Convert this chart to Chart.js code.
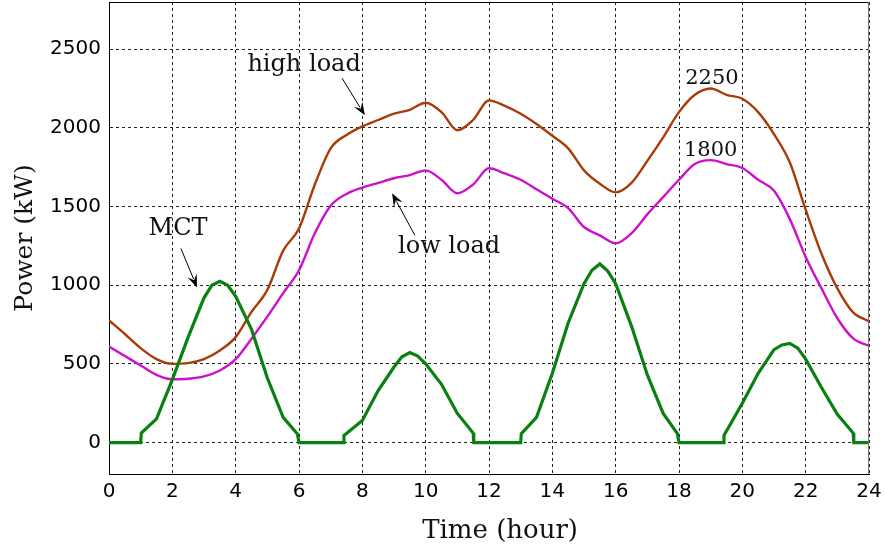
<!DOCTYPE html>
<html>
<head>
<meta charset="utf-8">
<script src="https://cdn.jsdelivr.net/npm/chart.js@4.4.1/dist/chart.umd.min.js"></script>
<style>
    html, body { margin: 0; padding: 0; background: #fff; }
    #wrap { width: 885px; height: 552px; }
</style>
</head>
<body>
<div id="wrap"><canvas id="powerChart"></canvas></div>
<script>
// --- данные (часы / кВт) ---
const loadHours = [0, 0.5, 1, 1.5, 2, 2.5, 3, 3.5, 4, 4.5, 5, 5.5, 6, 6.5, 7, 7.5, 8, 8.5, 9, 9.5, 10, 10.5, 11, 11.5,
    12, 12.5, 13, 13.5, 14, 14.5, 15, 15.5, 16, 16.5, 17, 17.5, 18, 18.5, 19, 19.5, 20, 20.5, 21, 21.5, 22, 22.5, 23, 23.5, 24];
const highLoad = [776, 690, 600, 530, 500, 505, 530, 585, 670, 830, 970, 1220, 1360, 1640, 1870, 1955, 2010, 2050, 2090, 2115, 2160, 2100, 1985, 2050,
    2175, 2140, 2090, 2025, 1950, 1870, 1730, 1645, 1590, 1650, 1790, 1940, 2100, 2210, 2250, 2210, 2185, 2100, 1960, 1780, 1480, 1200, 980, 827, 770];
const lowLoad = [610, 550, 490, 430, 402, 405, 420, 458, 530, 660, 800, 950, 1095, 1330, 1505, 1580, 1620, 1650, 1680, 1700, 1730, 1670, 1584, 1640,
    1743, 1710, 1670, 1610, 1550, 1490, 1370, 1317, 1266, 1330, 1450, 1560, 1670, 1770, 1795, 1770, 1745, 1670, 1600, 1420, 1180, 980, 790, 662, 615];

const mctHours = [0, 1.0, 1.02, 1.5, 2.0, 2.5, 3.0, 3.25, 3.5, 3.75, 4.0, 4.5, 5.0, 5.5, 5.95, 6.0,
    7.4, 7.42, 8.0, 8.5, 9.0, 9.25, 9.5, 9.75, 10.0, 10.5, 11.0, 11.5, 11.52,
    13.0, 13.02, 13.5, 14.0, 14.5, 15.0, 15.25, 15.5, 15.75, 16.0, 16.5, 17.0, 17.5, 17.95, 18.0,
    19.4, 19.42, 20.0, 20.5, 21.0, 21.25, 21.5, 21.75, 22.0, 22.5, 23.0, 23.5, 23.52, 24];
const mctPower = [0, 0, 60, 150, 400, 670, 920, 1000, 1025, 1000, 930, 720, 410, 160, 55, 0,
    0, 45, 140, 330, 480, 545, 572, 550, 500, 370, 185, 60, 0,
    0, 57, 160, 440, 760, 1010, 1095, 1135, 1090, 1010, 740, 430, 185, 57, 0,
    0, 45, 250, 440, 590, 620, 630, 600, 530, 350, 180, 60, 0, 0];

const xTicks = [0, 2, 4, 6, 8, 10, 12, 14, 16, 18, 20, 22, 24];
const yTicks = [0, 500, 1000, 1500, 2000, 2500];

// подписи и стрелки (в координатах данных)
const labels = [
    { text: 'high load', x: 6.16, y: 2398, size: 24 },
    { text: 'low load', x: 10.74, y: 1247, size: 24 },
    { text: 'MCT', x: 2.18, y: 1361, size: 24 },
    { text: '2250', x: 19.04, y: 2316, size: 21 },
    { text: '1800', x: 19.0, y: 1857, size: 21 }
];
const arrows = [
    { from: [7.36, 2316], to: [8.08, 2080] },
    { from: [9.66, 1317], to: [8.94, 1584] },
    { from: [2.27, 1234], to: [2.78, 986] }
];

const SERIF = "'DejaVu Serif', serif";
const SANS = "'DejaVu Sans', sans-serif";

const toPoints = (xs, ys) => xs.map((x, i) => ({ x: x, y: ys[i] }));

const frameAndNotes = {
    id: 'frameAndNotes',
    afterDatasetsDraw(chart) {
        const { ctx, chartArea: a, scales: { x, y } } = chart;
        ctx.save();
        // рамка
        ctx.lineWidth = 1;
        ctx.strokeStyle = '#000';
        ctx.beginPath();
        ctx.moveTo(a.left, a.top + 0.5);
        ctx.lineTo(a.right, a.top + 0.5);
        ctx.stroke();
        ctx.strokeStyle = '#777';
        ctx.beginPath();
        ctx.moveTo(a.right - 0.5, a.top);
        ctx.lineTo(a.right - 0.5, a.bottom);
        ctx.stroke();

        // текст
        ctx.fillStyle = '#111';
        ctx.textAlign = 'center';
        ctx.textBaseline = 'middle';
        labels.forEach(l => {
            ctx.font = l.size + 'px ' + SERIF;
            ctx.fillText(l.text, x.getPixelForValue(l.x), y.getPixelForValue(l.y));
        });

        // подпись оси X (в оригинале чуть правее центра)
        ctx.font = '26px ' + SERIF;
        ctx.fillText('Time (hour)', x.getPixelForValue(12.35), x.bottom - 21);

        // стрелки
        arrows.forEach(ar => {
            const x0 = x.getPixelForValue(ar.from[0]), y0 = y.getPixelForValue(ar.from[1]);
            const x1 = x.getPixelForValue(ar.to[0]), y1 = y.getPixelForValue(ar.to[1]);
            const ang = Math.atan2(y1 - y0, x1 - x0);
            const len = 13, half = 5;
            ctx.strokeStyle = '#000';
            ctx.lineWidth = 1;
            ctx.beginPath();
            ctx.moveTo(x0, y0);
            ctx.lineTo(x1 - Math.cos(ang) * len * 0.7, y1 - Math.sin(ang) * len * 0.7);
            ctx.stroke();
            const bx = x1 - Math.cos(ang) * len, by = y1 - Math.sin(ang) * len;
            ctx.fillStyle = '#000';
            ctx.beginPath();
            ctx.moveTo(x1, y1);
            ctx.lineTo(bx + Math.sin(ang) * half, by - Math.cos(ang) * half);
            ctx.lineTo(x1 - Math.cos(ang) * len * 0.6, y1 - Math.sin(ang) * len * 0.6);
            ctx.lineTo(bx - Math.sin(ang) * half, by + Math.cos(ang) * half);
            ctx.closePath();
            ctx.fill();
        });
        ctx.restore();
    }
};

const gridOpts = {
    color: '#222',
    lineWidth: 1,
    drawTicks: false
};

new Chart(document.getElementById('powerChart'), {
    type: 'line',
    data: {
        datasets: [
            { label: 'MCT', data: toPoints(mctHours, mctPower), borderColor: '#0a8010', borderWidth: 3.2, tension: 0, cubicInterpolationMode: 'default' },
            { label: 'low load', data: toPoints(loadHours, lowLoad), borderColor: '#cc10cc', borderWidth: 2.4 },
            { label: 'high load', data: toPoints(loadHours, highLoad), borderColor: '#a83c08', borderWidth: 2.4 }
        ]
    },
    options: {
        responsive: true,
        maintainAspectRatio: false,
        animation: false,
        layout: { padding: { top: 2, right: 16, left: 0, bottom: 0 } },
        elements: { point: { radius: 0 }, line: { cubicInterpolationMode: 'monotone' } },
        plugins: { legend: { display: false }, tooltip: { enabled: false } },
        scales: {
            x: {
                type: 'linear',
                min: 0,
                max: 24,
                afterBuildTicks: s => { s.ticks = xTicks.map(v => ({ value: v })); },
                afterFit: s => { s.height = 78; s.paddingLeft = 0; s.paddingRight = 0; },
                ticks: { color: '#000', font: { family: SANS, size: 20 }, padding: 6, maxRotation: 0, callback: v => String(v) },
                grid: gridOpts,
                border: { color: '#000', width: 1, dash: [3, 3] }
            },
            y: {
                min: -200,
                max: 2800,
                afterBuildTicks: s => { s.ticks = yTicks.map(v => ({ value: v })); },
                afterFit: s => { s.width = 109; s.paddingTop = 0; s.paddingBottom = 0; },
                ticks: { color: '#000', font: { family: SANS, size: 20 }, padding: 8, callback: v => String(v) },
                grid: gridOpts,
                border: { color: '#000', width: 1, dash: [3, 3] },
                title: { display: true, text: 'Power (kW)', color: '#111', font: { family: SERIF, size: 25 }, padding: { top: 10, bottom: 0 } }
            }
        }
    },
    plugins: [frameAndNotes]
});
</script>
</body>
</html>
